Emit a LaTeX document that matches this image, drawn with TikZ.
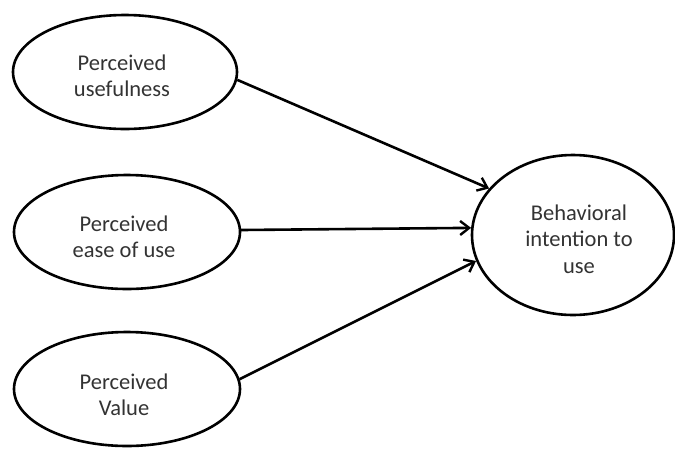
\documentclass[tikz,border=0pt]{standalone}
\usepackage{fontspec}
\setmainfont{Carlito}
\usetikzlibrary{arrows.meta,shapes.geometric}
\begin{document}
\begin{tikzpicture}[x=1pt,y=-1pt,
  oval/.style={draw=black,line width=2.6pt,ellipse,inner sep=0pt},
  lbl/.style={font=\fontsize{22.5}{26.5}\selectfont,text=black!80,align=center},
  link/.style={line width=2.6pt,-{Straight Barb[length=9pt,width=14pt,line width=2.4pt]}}]
\useasboundingbox (0,0) rectangle (675,448);
\node[oval,minimum width=224pt,minimum height=114pt] (pu) at (125,72) {};
\node[oval,minimum width=226pt,minimum height=114pt] (pe) at (127,232) {};
\node[oval,minimum width=226pt,minimum height=114pt] (pv) at (127,389) {};
\node[oval,minimum width=202pt,minimum height=160pt] (bi) at (573,235) {};
\node[lbl] (tpu) at (122,76) {Perceived\\usefulness};
\node[lbl] (tpe) at (124,237) {Perceived\\ease of use};
\node[lbl] (tpv) at (124,395) {Perceived\\Value};
\node[lbl] (tbi) at (579,239) {Behavioral\\intention to\\use};
\draw[link] (pu.-4) -- (bi.151);
\draw[link] (pe.1) -- (bi.176);
\draw[link] (pv.5) -- (bi.195);
\end{tikzpicture}
\end{document}
